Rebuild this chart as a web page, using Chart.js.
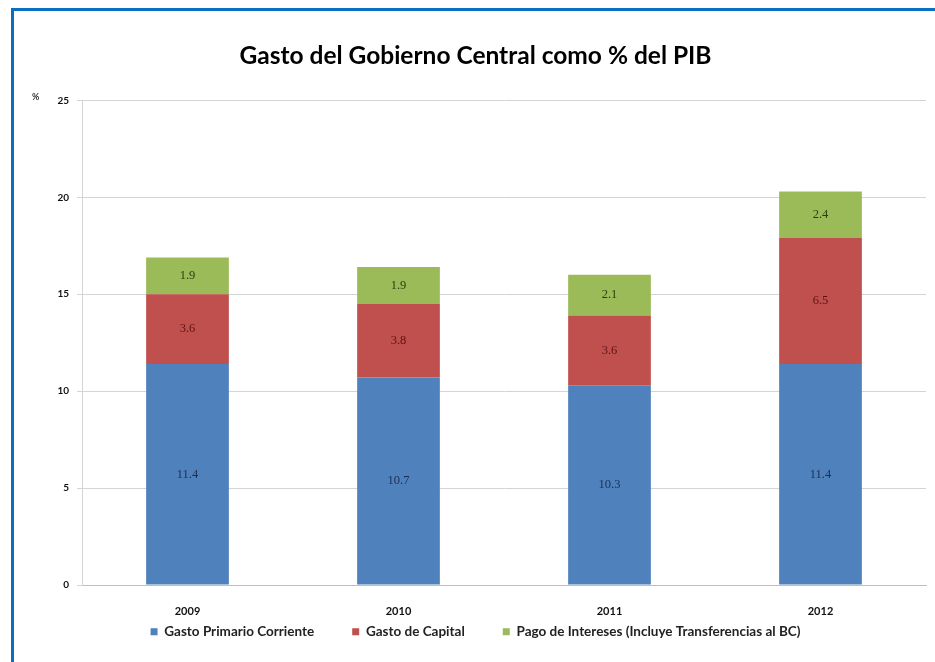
<!DOCTYPE html>
<html>
<head>
<meta charset="utf-8">
<script src="https://cdn.jsdelivr.net/npm/chart.js@4.4.1/dist/chart.umd.min.js"></script>
<style>
  html, body { margin: 0; padding: 0; background: #ffffff; }
  #wrap { position: relative; width: 935px; height: 662px; overflow: hidden; }
  #frame { position: absolute; left: 11px; top: 8px; width: 940px; height: 670px;
           border-top: 3px solid #0b6fc1; border-left: 3px solid #0b6fc1; box-sizing: border-box; pointer-events: none; }
  canvas { position: absolute; left: 0; top: 0; }
</style>
</head>
<body>
<div id="wrap">
  <canvas id="c" width="935" height="662"></canvas>
  <div id="frame"></div>
</div>
<script>
const categories = ['2009', '2010', '2011', '2012'];
const gastoPrimarioCorriente = [11.4, 10.7, 10.3, 11.4];
const gastoDeCapital = [3.6, 3.8, 3.6, 6.5];
const pagoDeIntereses = [1.9, 1.9, 2.1, 2.4];
const seriesNames = ['Gasto Primario Corriente', 'Gasto de Capital', 'Pago de Intereses (Incluye Transferencias al BC)'];
const yTicks = [0, 5, 10, 15, 20, 25];
const titleText = 'Gasto del Gobierno Central como % del PIB';
const yUnit = '%';

const barColors = ['#4f81bd', '#c0504d', '#9bbb59'];
const labelColors = ['#1c2f55', '#5a1414', '#2f3d12'];

const valueLabels = {
  id: 'valueLabels',
  afterLayout(chart) {
    // pull the legend row up closer to the axis labels
    if (chart.legend) { chart.legend.top -= 28; chart.legend.bottom = 662; }
  },
  afterDatasetsDraw(chart) {
    const ctx = chart.ctx;
    ctx.save();
    ctx.font = '12.5px "Liberation Serif", serif';
    ctx.textAlign = 'center';
    ctx.textBaseline = 'middle';
    chart.data.datasets.forEach((ds, di) => {
      const meta = chart.getDatasetMeta(di);
      meta.data.forEach((bar, i) => {
        const v = ds.data[i];
        ctx.fillStyle = labelColors[di];
        ctx.fillText(v.toFixed(1), bar.x, (bar.y + bar.base) / 2);
      });
    });
    // unit label
    ctx.font = 'bold 9px "Lato", sans-serif';
    ctx.fillStyle = '#333';
    ctx.textAlign = 'left';
    ctx.fillText(yUnit, 32, 97);
    ctx.restore();
  }
};

new Chart(document.getElementById('c'), {
  type: 'bar',
  data: {
    labels: categories,
    datasets: [
      { label: seriesNames[0], data: gastoPrimarioCorriente, backgroundColor: barColors[0] },
      { label: seriesNames[1], data: gastoDeCapital, backgroundColor: barColors[1] },
      { label: seriesNames[2], data: pagoDeIntereses, backgroundColor: barColors[2] }
    ]
  },
  options: {
    responsive: false,
    animation: false,
    layout: { padding: { left: 25, right: 9, top: 41, bottom: 0 } },
    datasets: { bar: { barPercentage: 0.8, categoryPercentage: 0.49 } },
    plugins: {
      title: {
        display: true,
        text: titleText,
        color: '#000',
        font: { family: 'Lato', size: 24.5, weight: 'bold' },
        padding: { top: 0, bottom: 30 }
      },
      legend: {
        position: 'bottom',
        maxHeight: 47,
        labels: {
          boxWidth: 7, boxHeight: 7, padding: 38,
          color: '#222',
          font: { family: 'Lato', size: 13.5, weight: 'bold' }
        }
      },
      tooltip: { enabled: false }
    },
    scales: {
      x: {
        stacked: true,
        grid: { display: false },
        border: { color: '#bfbfbf' },
        ticks: { color: '#111', font: { family: 'Lato', size: 11, weight: 'bold' }, padding: 12 },
        afterFit(s) { s.height = 30; }
      },
      y: {
        stacked: true,
        min: 0, max: 25,
        afterBuildTicks(s) { s.ticks = yTicks.map(v => ({ value: v })); },
        grid: { color: '#d4d4d4', tickLength: 5 },
        border: { color: '#d4d4d4' },
        ticks: { color: '#111', font: { family: 'Lato', size: 10, weight: 'bold' }, padding: 8 },
        afterFit(s) { s.width = 57; }
      }
    }
  },
  plugins: [valueLabels]
});
</script>
</body>
</html>
